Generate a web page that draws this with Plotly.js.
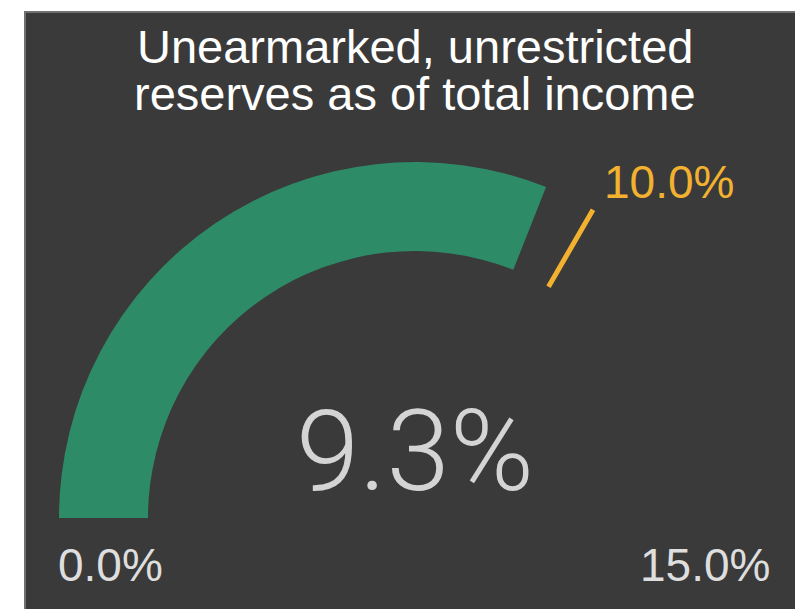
<!DOCTYPE html>
<html>
<head>
<meta charset="utf-8">
<script src="https://cdn.plot.ly/plotly-3.0.1.min.js"></script>
<style>html,body{margin:0;padding:0;background:#fff;}#chart{width:795px;height:609px;}</style>
</head>
<body>
<div id="chart"></div>
<script>
// ---- data ----
const titleLines = ["Unearmarked, unrestricted", "reserves as of total income"];
const gaugeValue = 9.3;         // % actual
const gaugeRange = [0, 15];     // % min / max
const targetValue = 10;         // % threshold
const valueSuffix = "%";

// ---- styles ----
const W = 795, H = 609;
const panelColor = "#3a3a3a";
const green = "#2e8b68";
const orange = "#f2b12e";
const labelColor = "#dedede";
const fmt = v => v.toFixed(1) + valueSuffix;

const trace = {
  type: "indicator",
  mode: "gauge+number",
  value: gaugeValue,
  number: {
    valueformat: ".1f",
    suffix: valueSuffix,
    font: { family: "Roboto, 'Open Sans', sans-serif", size: 114, color: "#d4d4d4", weight: 300 }
  },
  domain: { x: [57 / W, 773 / W], y: [91 / H, 1 - 162 / H] },
  gauge: {
    shape: "angular",
    axis: { range: gaugeRange, visible: false },
    bar: { color: green, thickness: 1 },
    bgcolor: "rgba(0,0,0,0)",
    borderwidth: 0,
    threshold: { value: targetValue, thickness: 1, line: { color: orange, width: 5 } }
  }
};

const labelFont = { family: "'Liberation Sans', Arial, sans-serif", size: 46, color: labelColor };
const titleFont = { family: "'Liberation Sans', Arial, sans-serif", size: 47, color: "#ffffff" };
const titleCenters = [46, 93]; // px from top

const layout = {
  width: W, height: H,
  margin: { l: 0, r: 0, t: 0, b: 0 },
  paper_bgcolor: "#ffffff",
  showlegend: false,
  shapes: [{
    type: "rect", xref: "paper", yref: "paper", layer: "below",
    x0: 25 / W, x1: 1.01, y0: -0.01, y1: 1 - 12 / H,
    fillcolor: panelColor, line: { color: "#707070", width: 2 }
  }],
  annotations: titleLines.map((t, i) => ({
      text: t, x: 415 / W, y: 1 - titleCenters[i] / H, xref: "paper", yref: "paper",
      showarrow: false, xanchor: "center", yanchor: "middle", font: titleFont
    })).concat([
    { text: fmt(gaugeRange[0]), x: 110 / W, y: 1 - 565 / H, xref: "paper", yref: "paper",
      showarrow: false, font: labelFont, xanchor: "center", yanchor: "middle" },
    { text: fmt(gaugeRange[1]), x: 705 / W, y: 1 - 565 / H, xref: "paper", yref: "paper",
      showarrow: false, font: labelFont, xanchor: "center", yanchor: "middle" },
    { text: fmt(targetValue), x: 669 / W, y: 1 - 182 / H, xref: "paper", yref: "paper",
      showarrow: false, font: Object.assign({}, labelFont, { color: orange }), xanchor: "center", yanchor: "middle" }
  ])
};

Plotly.newPlot("chart", [trace], layout, { displayModeBar: false, staticPlot: true });
</script>
</body>
</html>
